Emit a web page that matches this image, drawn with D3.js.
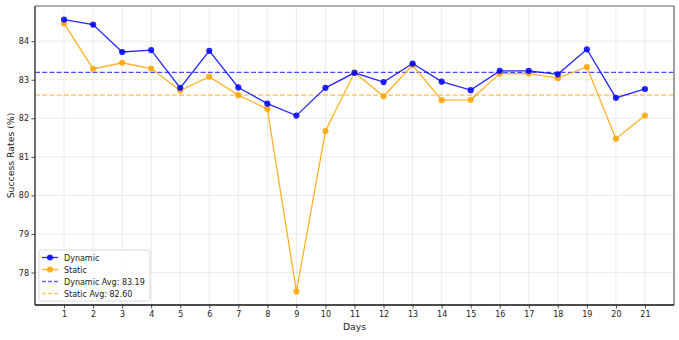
<!DOCTYPE html>
<html>
<head>
<meta charset="utf-8">
<script src="https://cdn.jsdelivr.net/npm/d3@7"></script>
<style>
  html, body { margin: 0; padding: 0; background: #fff; }
  svg { display: block; font-family: "DejaVu Sans", sans-serif; }
</style>
</head>
<body>
<svg id="chart" width="679" height="340"></svg>
<script>
// Daily success rates for the two scheduling strategies
const days = [1, 2, 3, 4, 5, 6, 7, 8, 9, 10, 11, 12, 13, 14, 15, 16, 17, 18, 19, 20, 21];
const dynamicRates = [84.56, 84.43, 83.72, 83.77, 82.79, 83.75, 82.80, 82.38, 82.07, 82.79, 83.18,
                      82.94, 83.42, 82.95, 82.73, 83.23, 83.23, 83.14, 83.79, 82.53, 82.76];
const staticRates = [84.46, 83.28, 83.44, 83.29, 82.72, 83.08, 82.60, 82.24, 77.51, 81.67, 83.19,
                     82.57, 83.38, 82.47, 82.48, 83.16, 83.16, 83.04, 83.33, 81.47, 82.07];
const dynamicAvg = 83.19;
const staticAvg = 82.60;
const yTicks = [78, 79, 80, 81, 82, 83, 84];

const svg = d3.select("#chart");
const margin = { left: 35, right: 5, top: 6, bottom: 35 };
const W = 679, H = 340;
const plotW = W - margin.left - margin.right;
const plotH = H - margin.top - margin.bottom;

const dynColor = "#0000ff";
const staColor = "#ffa500";

// Axis ranges padded by 5% of the data span on each side
const xPad = (d3.max(days) - d3.min(days)) * 0.05;
const x = d3.scaleLinear()
  .domain([d3.min(days) - xPad, d3.max(days) + xPad])
  .range([margin.left, margin.left + plotW]);
const allVals = dynamicRates.concat(staticRates);
const yMin = d3.min(allVals), yMax = d3.max(allVals);
const yPad = (yMax - yMin) * 0.05;
const y = d3.scaleLinear()
  .domain([yMin - yPad, yMax + yPad])
  .range([margin.top + plotH, margin.top]);

const g = svg.append("g");

// Grid
g.append("g").selectAll("line.vg").data(days).join("line")
  .attr("x1", d => x(d)).attr("x2", d => x(d))
  .attr("y1", margin.top).attr("y2", margin.top + plotH)
  .attr("stroke", "#b0b0b0").attr("stroke-opacity", 0.3).attr("stroke-width", 0.8);
g.append("g").selectAll("line.hg").data(yTicks).join("line")
  .attr("y1", d => y(d)).attr("y2", d => y(d))
  .attr("x1", margin.left).attr("x2", margin.left + plotW)
  .attr("stroke", "#b0b0b0").attr("stroke-opacity", 0.3).attr("stroke-width", 0.8);

// Average reference lines
g.append("line")
  .attr("x1", margin.left).attr("x2", margin.left + plotW)
  .attr("y1", y(dynamicAvg)).attr("y2", y(dynamicAvg))
  .attr("stroke", dynColor).attr("stroke-opacity", 0.7).attr("stroke-width", 1.3)
  .attr("stroke-dasharray", "5,2.2");
g.append("line")
  .attr("x1", margin.left).attr("x2", margin.left + plotW)
  .attr("y1", y(staticAvg)).attr("y2", y(staticAvg))
  .attr("stroke", staColor).attr("stroke-opacity", 0.7).attr("stroke-width", 1.3)
  .attr("stroke-dasharray", "5,2.2");

// Series lines and markers
const line = d3.line().x((d, i) => x(days[i])).y(d => y(d));
function drawSeries(vals, color) {
  g.append("path").datum(vals)
    .attr("d", line).attr("fill", "none")
    .attr("stroke", color).attr("stroke-opacity", 0.85).attr("stroke-width", 1.3);
  g.append("g").selectAll("circle").data(vals).join("circle")
    .attr("cx", (d, i) => x(days[i])).attr("cy", d => y(d)).attr("r", 3.1)
    .attr("fill", color).attr("fill-opacity", 0.85);
}
drawSeries(staticRates, staColor);
drawSeries(dynamicRates, dynColor);

// Axes
const xAxis = d3.axisBottom(x).tickValues(days).tickSize(3.5).tickPadding(2.5).tickFormat(d3.format("d"));
const yAxis = d3.axisLeft(y).tickValues(yTicks).tickSize(3.5).tickPadding(2.5).tickFormat(d3.format("d"));
const gx = svg.append("g").attr("transform", `translate(0,${margin.top + plotH})`).call(xAxis);
const gy = svg.append("g").attr("transform", `translate(${margin.left},0)`).call(yAxis);
[gx, gy].forEach(a => {
  a.select(".domain").remove();
  a.selectAll("text").attr("font-size", 8).attr("fill", "#222").attr("font-family", "DejaVu Sans");
  a.selectAll("line").attr("stroke", "#222").attr("stroke-width", 0.8);
});

// Frame
svg.append("line").attr("x1", margin.left).attr("x2", margin.left + plotW)
  .attr("y1", margin.top).attr("y2", margin.top).attr("stroke", "#666").attr("stroke-width", 1.2);
svg.append("line").attr("x1", margin.left + plotW).attr("x2", margin.left + plotW)
  .attr("y1", margin.top).attr("y2", margin.top + plotH).attr("stroke", "#777").attr("stroke-width", 1.4);
svg.append("line").attr("x1", margin.left).attr("x2", margin.left)
  .attr("y1", margin.top).attr("y2", margin.top + plotH).attr("stroke", "#333").attr("stroke-width", 1.4);
svg.append("line").attr("x1", margin.left).attr("x2", margin.left + plotW)
  .attr("y1", margin.top + plotH).attr("y2", margin.top + plotH).attr("stroke", "#111").attr("stroke-width", 1.4);

// Axis titles
svg.append("text").attr("x", margin.left + plotW / 2).attr("y", 330)
  .attr("text-anchor", "middle").attr("font-size", 9.3).attr("fill", "#222").text("Days");
svg.append("text").attr("transform", `translate(13.5,${margin.top + plotH / 2}) rotate(-90)`)
  .attr("text-anchor", "middle").attr("font-size", 9.3).attr("fill", "#222").text("Success Rates (%)");

// Legend
const legendItems = [
  { label: "Dynamic", color: dynColor, marker: true },
  { label: "Static", color: staColor, marker: true },
  { label: `Dynamic Avg: ${dynamicAvg.toFixed(2)}`, color: dynColor, marker: false },
  { label: `Static Avg: ${staticAvg.toFixed(2)}`, color: staColor, marker: false }
];
const lg = svg.append("g").attr("transform", "translate(39,250)");
lg.append("rect").attr("width", 111).attr("height", 51).attr("rx", 2)
  .attr("fill", "#fff").attr("fill-opacity", 0.8).attr("stroke", "#d0d0d0").attr("stroke-width", 0.8);
legendItems.forEach((it, i) => {
  const yy = 7.5 + i * 12;
  const row = lg.append("g");
  row.append("line").attr("x1", 3).attr("x2", 19).attr("y1", yy).attr("y2", yy)
    .attr("stroke", it.color).attr("stroke-width", it.marker ? 1.3 : 1.3)
    .attr("stroke-opacity", it.marker ? 0.85 : 0.6)
    .attr("stroke-dasharray", it.marker ? null : "4,2");
  if (it.marker) row.append("circle").attr("cx", 11).attr("cy", yy).attr("r", 3)
    .attr("fill", it.color).attr("fill-opacity", 0.85);
  row.append("text").attr("x", 25).attr("y", yy + 3).attr("font-size", 8)
    .attr("fill", "#222").text(it.label);
});
</script>
</body>
</html>
